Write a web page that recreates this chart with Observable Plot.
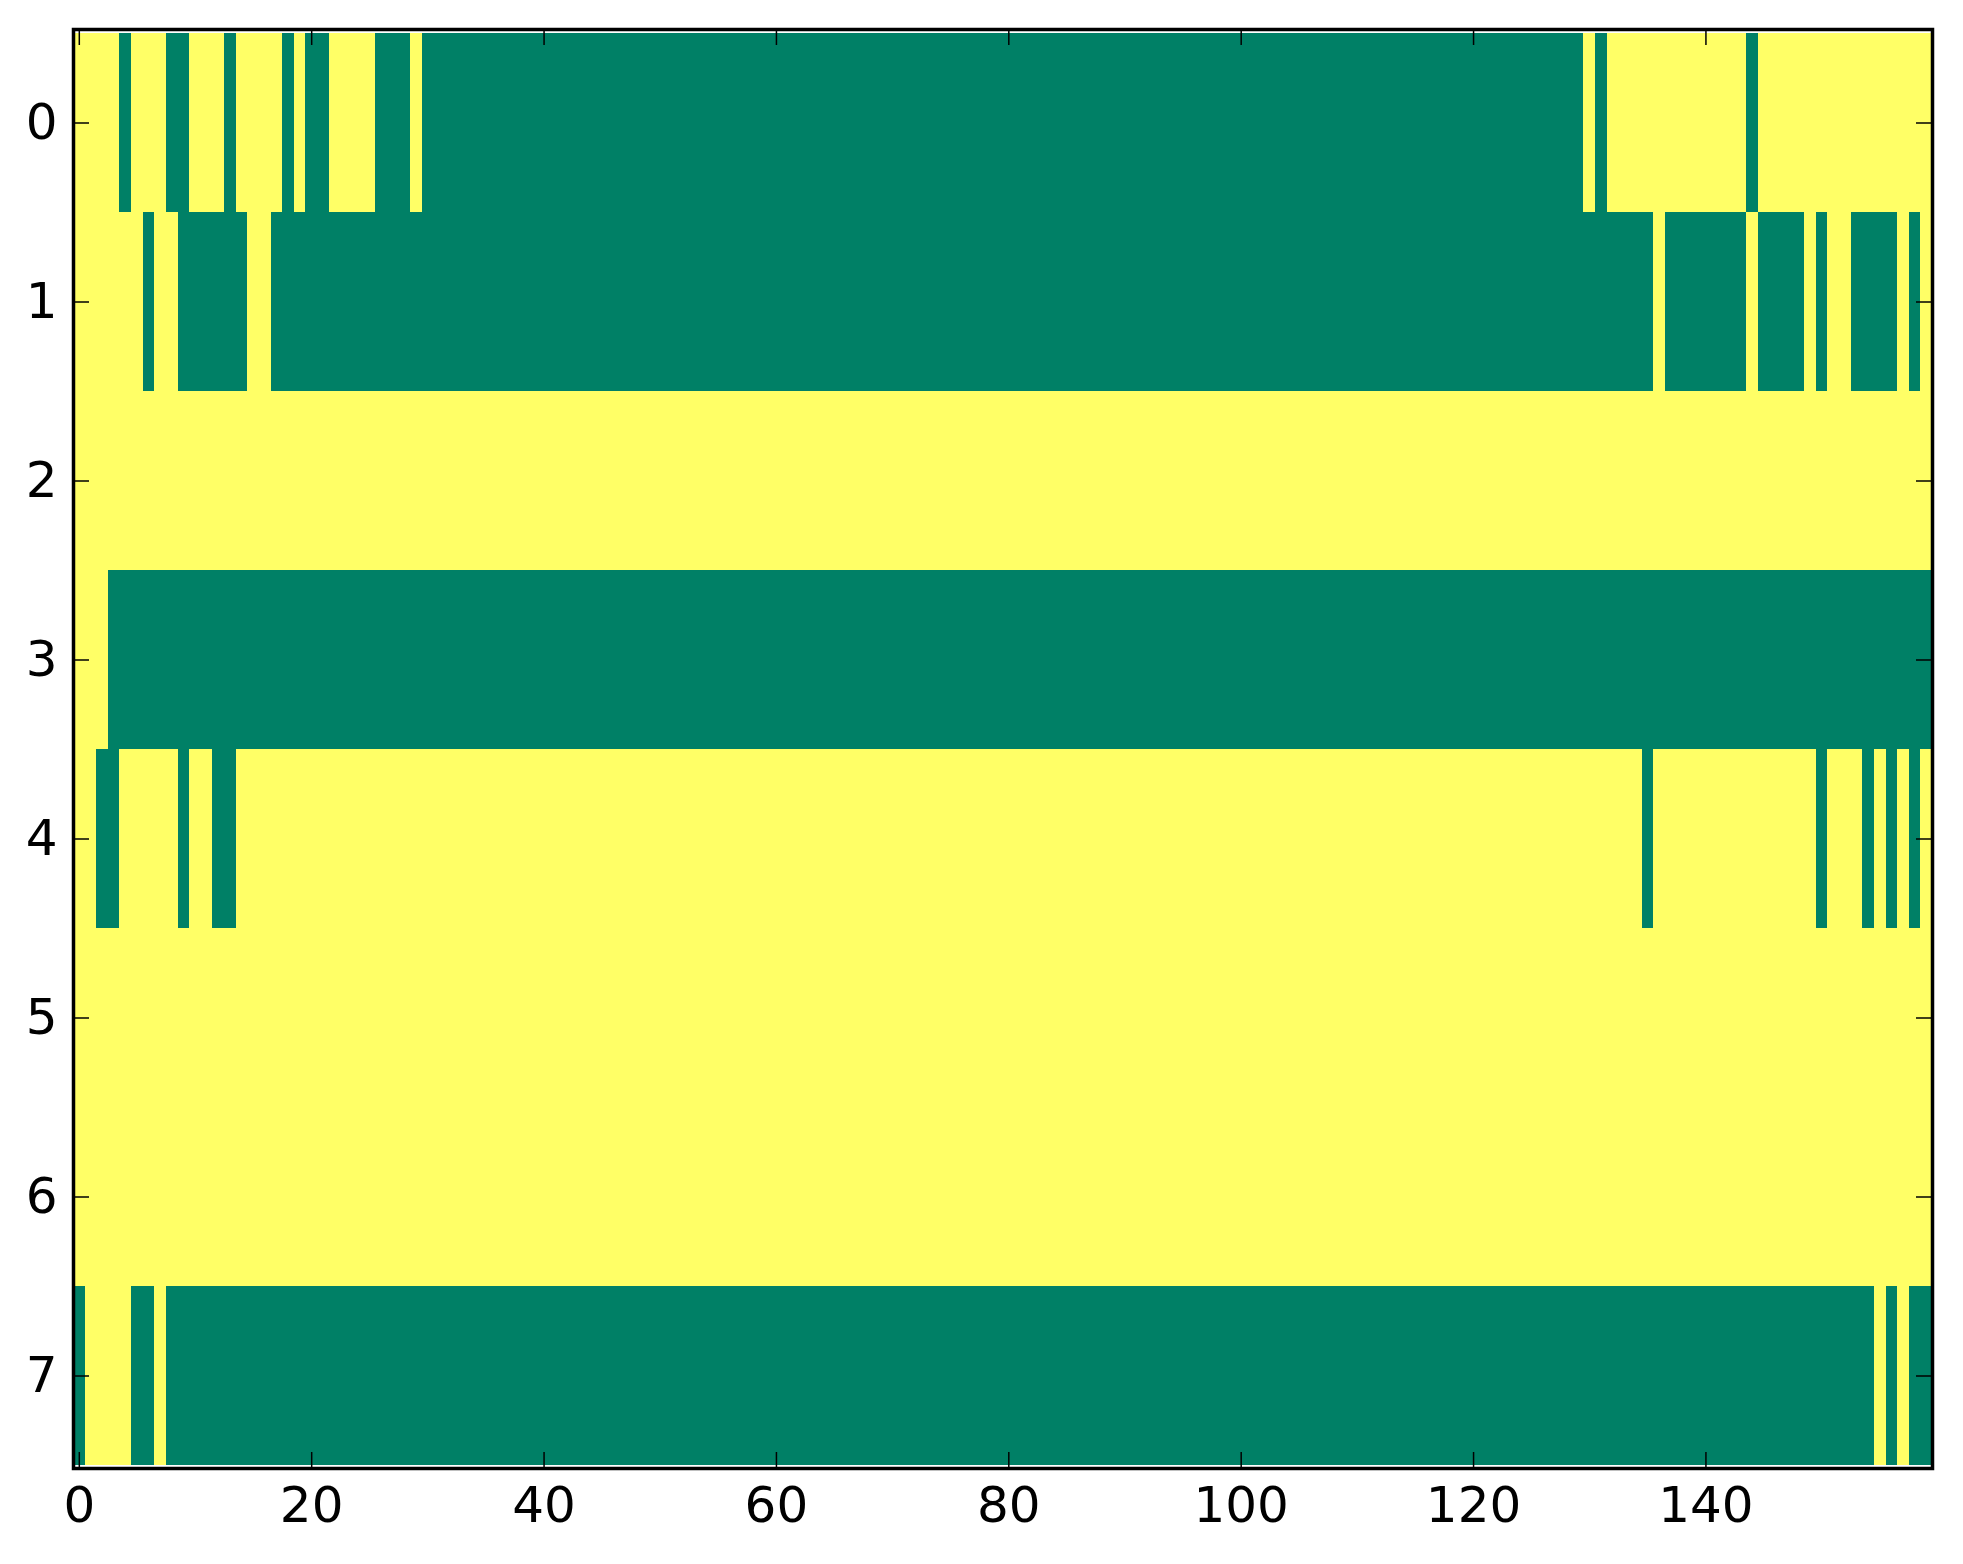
<!DOCTYPE html>
<html>
<head>
<meta charset="utf-8">
<script src="https://cdn.jsdelivr.net/npm/d3@7"></script>
<script src="https://cdn.jsdelivr.net/npm/@observablehq/plot@0.6"></script>
<style>
  html, body { margin: 0; padding: 0; background: #fff; }
  #chart svg { display: block; }
</style>
</head>
<body>
<div id="chart"></div>
<script>
// Category indices (image columns and rows)
const columns = d3.range(160);
const rowLabels = [0, 1, 2, 3, 4, 5, 6, 7];
const xTicks = [0, 20, 40, 60, 80, 100, 120, 140];
const yTicks = [0, 1, 2, 3, 4, 5, 6, 7];

// Cell values per row, columns 0..159 (groups of 10); 1 = yellow, 0 = green
const row0 = "1111011100 1110111101 0011110001 0000000000 0000000000 0000000000 0000000000 0000000000 0000000000 0000000000 0000000000 0000000000 0000000000 1011111111 1111011111 1111111111";
const row1 = "1111110110 0000011000 0000000000 0000000000 0000000000 0000000000 0000000000 0000000000 0000000000 0000000000 0000000000 0000000000 0000000000 0000001000 0000100001 0110000101";
const row2 = "1111111111 1111111111 1111111111 1111111111 1111111111 1111111111 1111111111 1111111111 1111111111 1111111111 1111111111 1111111111 1111111111 1111111111 1111111111 1111111111";
const row3 = "1110000000 0000000000 0000000000 0000000000 0000000000 0000000000 0000000000 0000000000 0000000000 0000000000 0000000000 0000000000 0000000000 0000000000 0000000000 0000000000";
const row4 = "1100111110 1100111111 1111111111 1111111111 1111111111 1111111111 1111111111 1111111111 1111111111 1111111111 1111111111 1111111111 1111111111 1111101111 1111111111 0111010101";
const row5 = "1111111111 1111111111 1111111111 1111111111 1111111111 1111111111 1111111111 1111111111 1111111111 1111111111 1111111111 1111111111 1111111111 1111111111 1111111111 1111111111";
const row6 = "1111111111 1111111111 1111111111 1111111111 1111111111 1111111111 1111111111 1111111111 1111111111 1111111111 1111111111 1111111111 1111111111 1111111111 1111111111 1111111111";
const row7 = "0111100100 0000000000 0000000000 0000000000 0000000000 0000000000 0000000000 0000000000 0000000000 0000000000 0000000000 0000000000 0000000000 0000000000 0000000000 0000010100";

const rowStrings = [row0, row1, row2, row3, row4, row5, row6, row7];
const grid = rowStrings.map(s => s.replace(/\s+/g, "").split("").map(Number));
const cells = grid.flatMap((r, i) => r.map((v, j) => ({row: rowLabels[i], col: columns[j], v})));

const W = 1963, H = 1564;
const mL = 73, mR = 31, mT = 29, mB = 96;
const fw = W - mL - mR, fh = H - mT - mB;
const tickLen = 16;

const chart = Plot.plot({
  width: W,
  height: H,
  marginLeft: mL,
  marginRight: mR,
  marginTop: mT,
  marginBottom: mB,
  style: {fontFamily: "'DejaVu Sans', sans-serif", fontSize: "50px", color: "black", background: "white"},
  x: {type: "band", domain: columns, padding: 0},
  y: {type: "band", domain: rowLabels, padding: 0},
  color: {type: "ordinal", domain: [0, 1], range: ["#008066", "#ffff66"]},
  marks: [
    Plot.cell(cells, {x: "col", y: "row", fill: "v", shapeRendering: "crispEdges"}),
    Plot.axisX({ticks: xTicks, tickSize: 0, tickPadding: 18, label: null, fontSize: 50}),
    Plot.axisY({ticks: yTicks, tickSize: 0, tickPadding: 16, label: null, fontSize: 50}),
    Plot.tickX(xTicks, {x: d => d, insetTop: fh - tickLen, stroke: "black", strokeWidth: 1.5}),
    Plot.tickX(xTicks, {x: d => d, insetBottom: fh - tickLen, stroke: "black", strokeWidth: 1.5}),
    Plot.tickY(yTicks, {y: d => d, insetRight: fw - tickLen, stroke: "black", strokeWidth: 1.5}),
    Plot.tickY(yTicks, {y: d => d, insetLeft: fw - tickLen, stroke: "black", strokeWidth: 1.5}),
    Plot.frame({stroke: "black", strokeWidth: 3.5})
  ]
});
document.getElementById("chart").appendChild(chart);
</script>
</body>
</html>
